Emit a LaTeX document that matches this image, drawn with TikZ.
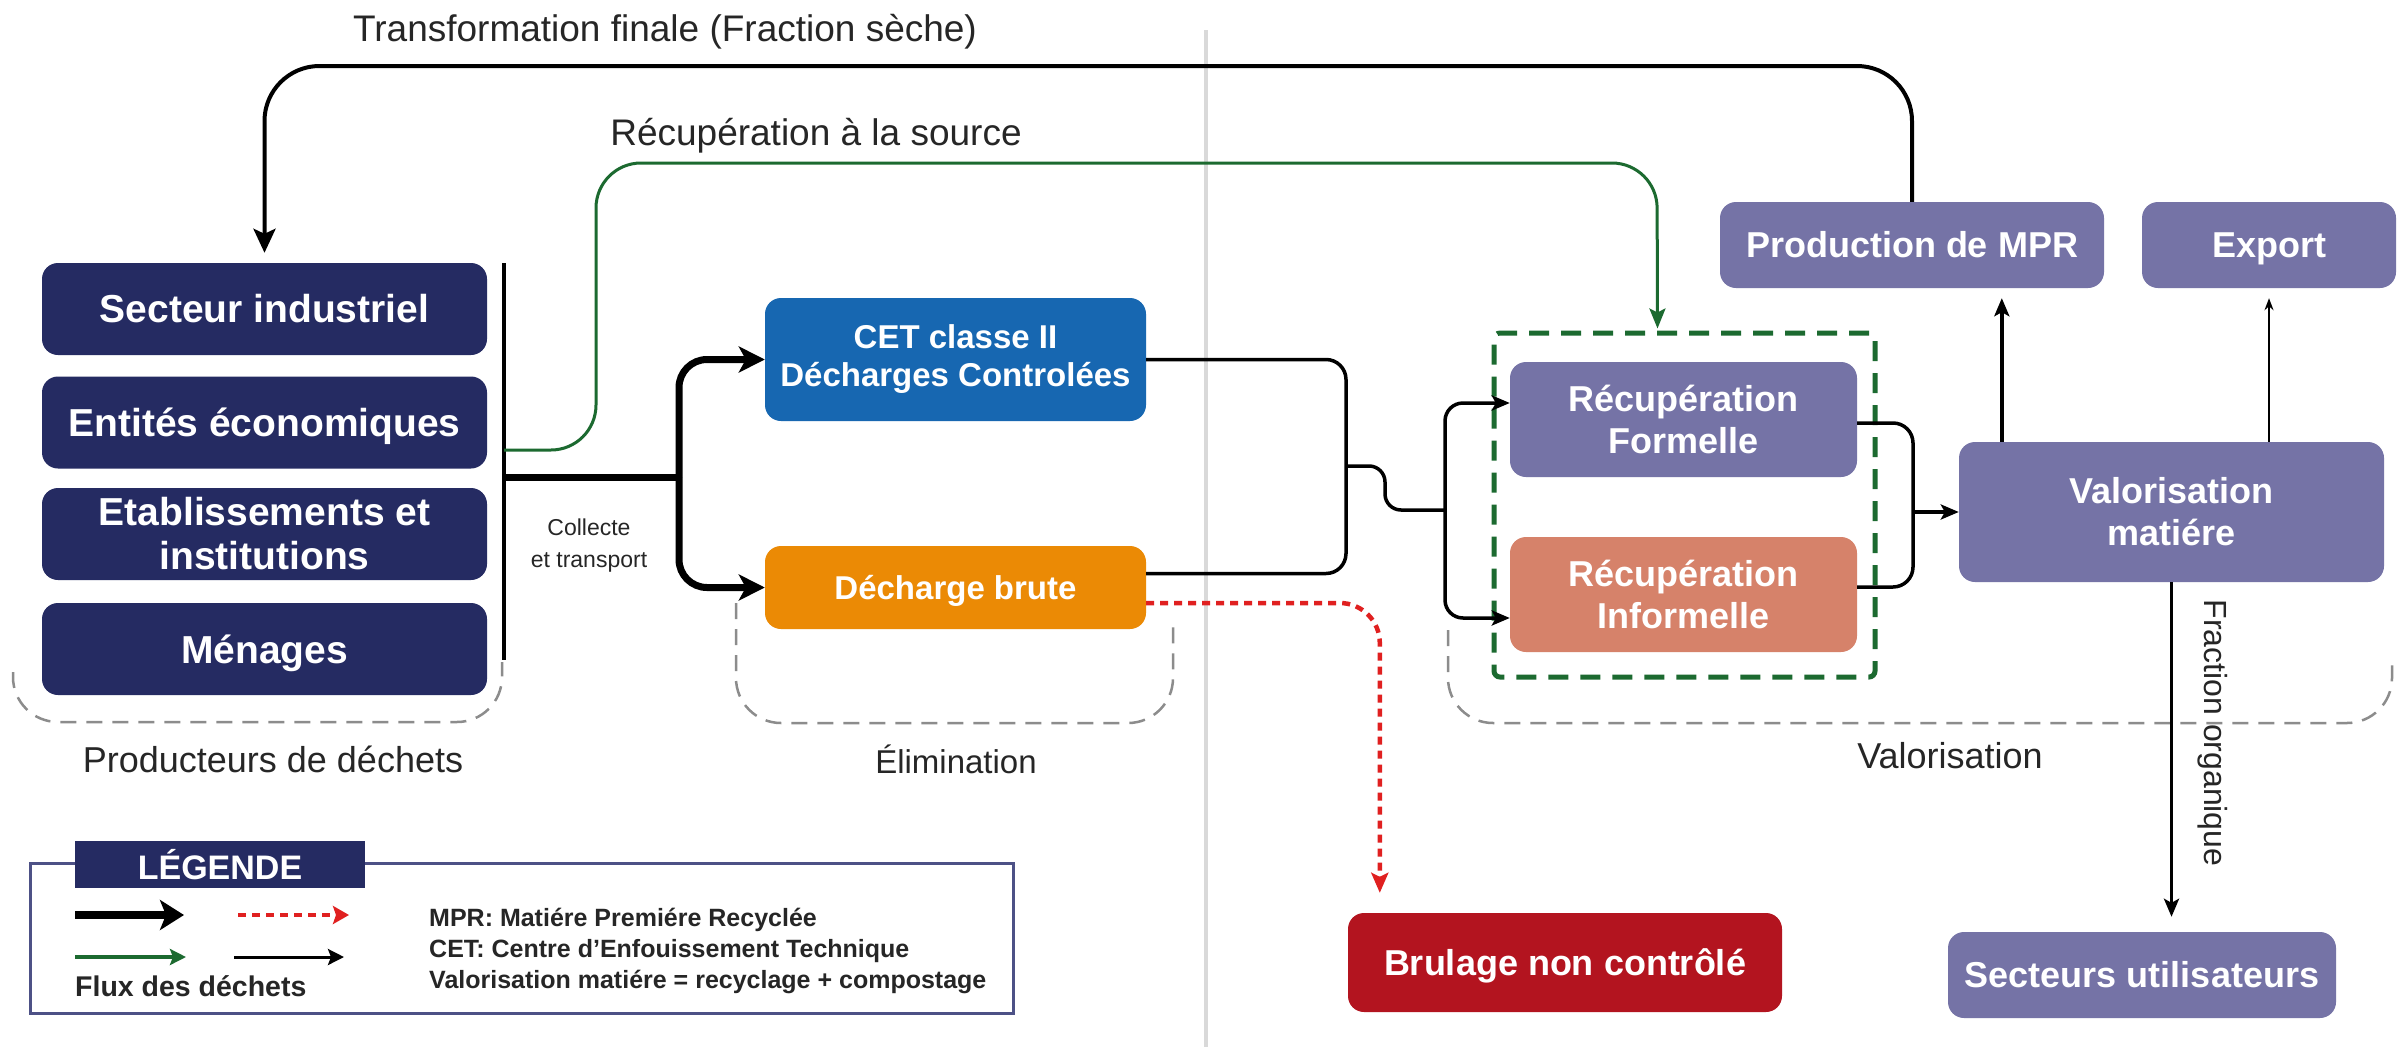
\documentclass[tikz,border=0pt]{standalone}
\usepackage{fontspec}
\setmainfont{Liberation Sans}
\usetikzlibrary{arrows.meta}
\definecolor{navy}{HTML}{252B62}
\definecolor{cetblue}{HTML}{1767B1}
\definecolor{dorange}{HTML}{EB8A05}
\definecolor{lav}{HTML}{7573A6}
\definecolor{salmon}{HTML}{D6826A}
\definecolor{brred}{HTML}{B3141F}
\definecolor{fgreen}{HTML}{1C6A30}
\definecolor{legbord}{HTML}{4D5186}
\definecolor{redarr}{HTML}{E02020}
\newcommand{\nodp}[1]{\raisebox{0pt}[\height][0pt]{#1}}
\tikzset{
  box/.style={rounded corners=16pt, inner sep=0pt, text=white, align=center, font=\bfseries},
  prodbox/.style={box, fill=navy, minimum width=445pt, minimum height=92pt, font=\fontsize{39}{44}\selectfont\bfseries},
  elimbox/.style={box, minimum width=381pt, font=\fontsize{33}{38}\selectfont\bfseries},
  lavbox/.style={box, fill=lav, font=\fontsize{36}{42}\selectfont\bfseries},
  lbl/.style={inner sep=0pt, font=\fontsize{36}{40}\selectfont, text=black!85},
  thickflow/.style={line width=7pt, black},
  conn/.style={line width=3.5pt, black},
  bigtip/.style={-{Stealth[length=26pt,width=26pt,inset=7pt]}},
  smalltip/.style={-{Stealth[length=18pt,width=15pt,inset=4pt]}},
  grpline/.style={dashed, dash pattern=on 16pt off 10pt, line width=2.5pt, black!45, rounded corners=45pt},
  reddot/.style={line width=4.5pt, redarr, dash pattern=on 8pt off 6pt},
}
\begin{document}
\begin{tikzpicture}[x=1pt,y=-1pt]
\useasboundingbox (0,0) rectangle (2399,1047);
\fill[white] (0,0) rectangle (2399,1047);
% divider
\draw[line width=4pt, black!15] (1206,30) -- (1206,1047);

% producers
\node[prodbox] (sec) at (264.5,309) {Secteur industriel};
\node[prodbox] (ent) at (264.5,422.5) {\nodp{Entités économiques}};
\node[prodbox] (eta) at (264.5,534) {Etablissements et\\institutions};
\node[prodbox] (men) at (264.5,649) {\nodp{Ménages}};
\coordinate (busT) at (504,263);
\coordinate (busB) at (504,660);
\draw[line width=4pt] (busT) -- (busB);

% elimination
\node[elimbox, fill=cetblue, minimum height=123pt] (cet) at (955.5,359.5) {CET classe II\\Décharges Controlées};
\node[elimbox, fill=dorange, minimum height=83pt] (dbr) at (955.5,587.5) {\nodp{Décharge brute}};

% valorisation
\node[lavbox, minimum width=347pt, minimum height=115pt] (rfo) at (1683.5,419.5) {Récupération\\Formelle};
\node[lavbox, fill=salmon, minimum width=347pt, minimum height=115pt] (rin) at (1683.5,594.5) {Récupération\\Informelle};
\node[draw=fgreen, line width=5pt, dash pattern=on 20pt off 12pt, rounded corners=6pt, minimum width=381pt, minimum height=344pt, inner sep=0pt] (grp) at (1684.5,505) {};
\node[lavbox, minimum width=425pt, minimum height=140pt] (val) at (2171.5,512) {Valorisation\\matiére};
\node[lavbox, minimum width=384pt, minimum height=86pt] (mpr) at (1912,245) {Production de MPR};
\node[lavbox, minimum width=254pt, minimum height=86pt] (exp) at (2269,245) {\nodp{Export}};
\node[box, fill=brred, minimum width=434pt, minimum height=99pt, font=\fontsize{36}{42}\selectfont\bfseries] (bru) at (1565,962.5) {\nodp{Brulage non contrôlé}};
\node[lavbox, minimum width=388pt, minimum height=86pt] (sut) at (2142,975) {Secteurs utilisateurs};

% group outlines
\draw[grpline] (13,672) -- (13,722) -- (502,722) -- (502,662);
\draw[grpline] (736,603) -- (736,723) -- (1173,723) -- (1173,627);
\draw[grpline] (1448,630) -- (1448,723) -- (2392,723) -- (2392,660);
\node[lbl] (lprod) at (273,759) {Producteurs de déchets};
\node[lbl, font=\fontsize{33}{38}\selectfont] (lelim) at (956,759) {Élimination};
\node[lbl] (lval) at (1950,756) {Valorisation};

% top labels
\node[lbl, font=\fontsize{37}{40}\selectfont] (ttrans) at (665,32) {Transformation finale (Fraction sèche)};
\node[lbl, font=\fontsize{37}{40}\selectfont] (trec) at (816,136) {Récupération à la source};

% collect and transport
\coordinate (bmid) at (504,477);
\coordinate (split) at (679,477);
\draw[thickflow] (bmid) -- (split);
\draw[thickflow, bigtip, rounded corners=28pt] (split) |- (cet.west);
\draw[thickflow, bigtip, rounded corners=28pt] (split) |- (dbr.west);
\node[inner sep=0pt, align=center, font=\fontsize{23}{32}\selectfont, text=black!85] (coll) at (589,546) {Collecte\\et transport};

% green recovery at source
\coordinate (gstart) at (504,450);
\draw[line width=3pt, fgreen, -{Stealth[length=20pt,width=16pt,inset=4pt]}, rounded corners=45pt]
  (gstart) -- (596,450) -- (596,163) -- (1657,163) -- ([xshift=-27pt,yshift=2pt]grp.north);

% top black loop
\draw[line width=4pt, black, -{Stealth[length=24pt,width=22pt,inset=5pt]}, rounded corners=55pt, shorten >=10pt]
  (mpr.north) -- (1912,66) -- (264.5,66) -- (sec.north);

% elimination outputs
\draw[conn, rounded corners=20pt] (cet.east) -- (1346,359.5) -- (1346,573.5) -- ([yshift=14pt]dbr.east);
\coordinate (emid) at (1346,466);
\coordinate (rsplit) at (1445,510);
\draw[conn, rounded corners=16pt] (emid) -- (1385,466) -- (1385,510) -- (rsplit);
\draw[conn, smalltip, rounded corners=18pt] (rsplit) |- ([yshift=16.5pt]rfo.west);
\draw[conn, smalltip, rounded corners=18pt] (rsplit) |- ([yshift=-23.5pt]rin.west);

% recovery outputs
\draw[conn, rounded corners=20pt] ([yshift=-3.5pt]rfo.east) -- (1913,423) -- (1913,587) -- ([yshift=7.5pt]rin.east);
\draw[conn, smalltip] (1913,512) -- (val.west);

% valorisation outputs
\draw[conn, smalltip, shorten >=10pt] ([xshift=43pt]val.north west) -- ([xshift=43pt]val.north west |- mpr.south);
\draw[line width=1.8pt, black, -{Stealth[length=12pt,width=9pt]}, shorten >=10pt] (exp.south |- val.north) -- (exp.south);
\draw[conn, smalltip, shorten >=15pt] (val.south) -- (val.south |- sut.north);
\node[inner sep=0pt, rotate=-90, font=\fontsize{32}{36}\selectfont, text=black!85] (frac) at (2213,733) {Fraction organique};

% uncontrolled burning
\draw[reddot, rounded corners=40pt, -{Stealth[length=20pt,width=17pt,inset=4pt]}] ([yshift=-15.5pt]dbr.east) -| ([xshift=32pt,yshift=20pt]bru.north west);

% legend
\node[draw=legbord, line width=3pt, minimum width=983pt, minimum height=150pt, inner sep=0pt] (leg) at (521.5,938) {};
\node[fill=navy, minimum width=290pt, minimum height=47pt, inner sep=0pt, text=white, font=\fontsize{34}{38}\selectfont\bfseries] (legt) at (220,864.5) {LÉGENDE};
\coordinate (la1) at (75,915); \coordinate (lb1) at (184,915);
\coordinate (la2) at (238,915); \coordinate (lb2) at (349,915);
\coordinate (la3) at (75,957); \coordinate (lb3) at (186,957);
\coordinate (la4) at (234,957); \coordinate (lb4) at (344,957);
\draw[line width=8pt, -{Stealth[length=24pt,width=30pt,inset=6pt]}] (la1) -- (lb1);
\draw[line width=3.5pt, redarr, dash pattern=on 8pt off 6pt, -{Stealth[length=16pt,width=18pt,inset=3pt]}] (la2) -- (lb2);
\draw[line width=3.5pt, fgreen, -{Stealth[length=16pt,width=16pt,inset=3pt]}] (la3) -- (lb3);
\draw[line width=3pt, black, -{Stealth[length=16pt,width=16pt,inset=3pt]}] (la4) -- (lb4);
\node[anchor=west, inner sep=0pt, font=\fontsize{28.5}{30}\selectfont\bfseries, text=black!85] (flux) at (75,986) {Flux des déchets};
\node[anchor=west, inner sep=0pt, align=left, font=\fontsize{25}{31}\selectfont\bfseries, text=black!85] (legtxt) at (429,951) {MPR: Matiére Premiére Recyclée\\CET: Centre d’Enfouissement Technique\\Valorisation matiére = recyclage + compostage};
\end{tikzpicture}
\end{document}
